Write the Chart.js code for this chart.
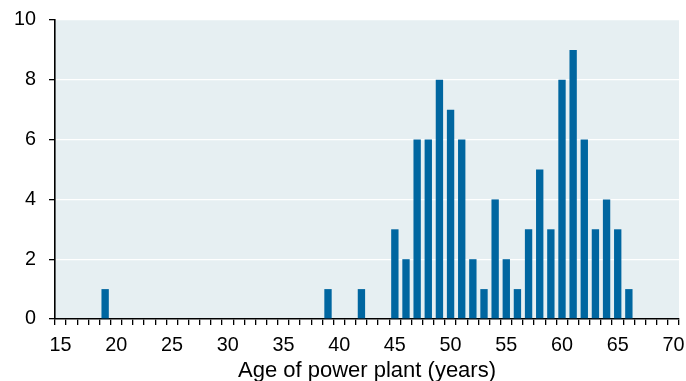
<!DOCTYPE html>
<html><head><meta charset="utf-8">
<script src="https://cdn.jsdelivr.net/npm/chart.js@4.4.0/dist/chart.umd.min.js"></script>
<style>html,body{margin:0;padding:0;background:#fff}#wrap{width:686px;height:381px;position:relative}</style>
</head><body><div id="wrap"><canvas id="c" width="686" height="381"></canvas></div>
<script>
const ages = ["15","16","17","18","19","20","21","22","23","24","25","26","27","28","29","30","31","32","33","34","35","36","37","38","39","40","41","42","43","44","45","46","47","48","49","50","51","52","53","54","55","56","57","58","59","60","61","62","63","64","65","66","67","68","69","70"];
const counts = [0,0,0,0,1,0,0,0,0,0, 0,0,0,0,0,0,0,0,0,0, 0,0,0,0,1,0,0,1,0,0, 3,2,6,6,8,7,6,2,1,4, 2,1,3,5,3,8,9,6,3,4, 3,1,0,0,0,0];
const xLabelEvery = 5;
const yMin = 0, yMax = 10, yStep = 2;
const xTitle = "Age of power plant (years)";

const plotBg = {
  id: 'plotBg',
  beforeDraw(chart) {
    const {ctx, chartArea: a} = chart;
    ctx.save();
    ctx.fillStyle = '#e6eff2';
    ctx.fillRect(a.left, a.top, a.right - a.left, a.bottom - a.top);
    ctx.restore();
  }
};
const font = {family: '"Liberation Sans", Arial, sans-serif', size: 19.8};
const titleFont = {family: '"Liberation Sans", Arial, sans-serif', size: 22};

new Chart(document.getElementById('c'), {
  type: 'bar',
  data: {labels: ages, datasets: [{data: counts, backgroundColor: '#0066a0', borderWidth: 0, barPercentage: 0.66, categoryPercentage: 1}]},
  options: {
    responsive: false, devicePixelRatio: 1, animation: false,
    layout: {padding: {left: 0, right: 7, top: 20, bottom: 0}},
    plugins: {legend: {display: false}, tooltip: {enabled: false}},
    scales: {
      x: {
        offset: true,
        grid: {offset: true, drawOnChartArea: false, color: '#000', tickColor: '#000', tickLength: 6, lineWidth: 1.3},
        border: {color: '#000', width: 1.6},
        ticks: {autoSkip: false, maxRotation: 0, color: '#000', font: font, padding: 9,
          callback: function(v, i) { const l = ages[i]; return (Number(l) % xLabelEvery === 0) ? l : ''; }},
        title: {display: true, text: xTitle, color: '#000', font: titleFont, padding: {top: 0, bottom: -3}},
        afterFit(s) { s.height = 62; s.paddingLeft = 0; s.paddingRight = 0; }
      },
      y: {
        min: yMin, max: yMax,
        grid: {color: '#ffffff', tickColor: '#000', tickLength: 6, lineWidth: 1.3},
        border: {color: '#000', width: 1.6},
        ticks: {stepSize: yStep, color: '#000', font: font, padding: 13},
        afterFit(s) { s.width = 55; s.paddingTop = 0; s.paddingBottom = 0; }
      }
    }
  },
  plugins: [plotBg]
});
</script></body></html>
